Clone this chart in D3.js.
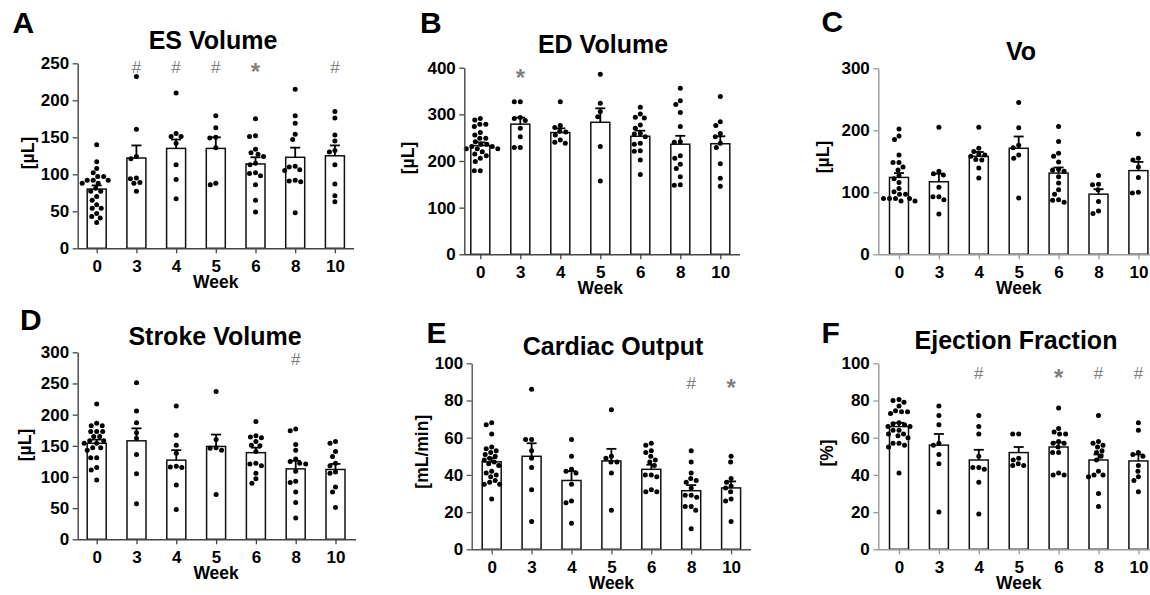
<!DOCTYPE html>
<html>
<head>
<meta charset="utf-8">
<script src="https://cdn.jsdelivr.net/npm/d3@7"></script>
<style>
  html, body { margin: 0; padding: 0; background: #fff; }
  svg { display: block; font-family: "Liberation Sans", Arial, Helvetica, sans-serif; }
</style>
</head>
<body>
<svg id="fig" width="1150" height="595"></svg>
<script>
// Weeks after start
const weeks = ["0", "3", "4", "5", "6", "8", "10"];

// A: end-systolic volume [µL]
const esDots = [
  [140,117,108,102,97,97,92,92,92,88,88,81,77,77,70,65,59,54,54,47,43,41,35],
  [232,161,124,121,95,94,89,88,77],
  [210,155,151,151,142,113,93,67],
  [179,163,150,149,136,88,86],
  [175,152,151,134,129,127,124,115,113,102,101,98,86,65,49],
  [215,179,169,154,147,111,110,106,105,92,91,90,48],
  [185,176,153,145,132,130,113,87,71,63]
];
const esMean = [80,122,135,135,114,123,125];
const esSem = [5,17,12,15,9,13,14];
const esMarks = ["","#","#","#","*","","#"];
const esTicks = [0,50,100,150,200,250];

// B: end-diastolic volume [µL]
const edDots = [
  [291,288,279,279,274,261,256,249,249,241,236,236,231,231,226,226,226,220,215,211,206,199,179,179],
  [327,327,293,291,287,270,252,229,229],
  [327,276,272,264,262,256,245,240,238],
  [386,324,306,295,231,157],
  [315,301,294,292,277,270,259,258,252,238,236,222,221,202,171],
  [356,329,321,304,274,241,240,211,206,193,184,166,149,148],
  [338,284,276,259,252,238,229,194,163,146]
];
const edMean = [233,279,261,283,253,236,237];
const edSem = [7,14,9,30,12,18,16];
const edMarks = ["","*","","","","",""];
const edTicks = [0,100,200,300,400];

// C: Vo [µL]
const voDots = [
  [202,191,185,160,148,148,141,136,127,122,116,106,101,97,97,90,90,90,90,86,86],
  [205,134,130,128,108,93,93,88,65],
  [205,171,166,161,160,158,153,152,139,123],
  [245,204,176,172,160,155,91],
  [206,182,163,158,149,137,136,134,125,115,104,97,88,87,84],
  [127,113,112,104,85,70,66],
  [194,155,152,141,124,100,99]
];
const voMean = [124,117,158,171,131,97,135];
const voSem = [7,13,7,19,9,8,14];
const voMarks = ["","","","","","",""];
const voTicks = [0,100,200,300];

// D: stroke volume [µL]
const svDots = [
  [217,186,182,182,173,173,173,165,165,158,158,154,154,147,147,143,131,131,115,111,95],
  [251,206,187,171,162,136,105,57],
  [214,167,151,138,117,116,115,87,48],
  [237,160,147,146,143,72],
  [189,166,164,163,157,151,150,141,122,121,118,106,97,90],
  [177,174,152,143,129,125,122,121,109,93,91,76,59,34],
  [157,154,141,133,122,118,108,106,84,76,51]
];
const svMean = [154,158,127,149,139,113,112];
const svSem = [6,20,16,19,8,13,9];
const svMarks = ["","","","","","#",""];
const svTicks = [0,50,100,150,200,250,300];

// E: cardiac output [mL/min]
const coDots = [
  [68,67,62,55,54,53,52,51,50,49,48,47,46,45,42,41,40,39,37,36,35,35,27],
  [86,59,59,53,49,44,32,15],
  [59,50,43,42,41,35,26,25,14],
  [75,50,49,47,47,41,21],
  [57,56,53,52,50,48,47,45,40,40,39,32,31,31],
  [53,47,41,38,37,36,33,29,29,28,23,23,21,11],
  [50,47,38,36,34,33,31,27,26,15]
];
const coMean = [47,50,37,47.5,43,31.5,33];
const coSem = [2,7,5,6.5,2.5,3,3.5];
const coMarks = ["","","","","","#","*"];
const coTicks = [0,20,40,60,80,100];

// F: ejection fraction [%]
const efDots = [
  [80.5,80,79,77,74.5,74,74,73,68,67.5,67,66,66,64,64,62,62,61,60,57,57,56,55,41],
  [77,72,67,57,56,51,46,20],
  [72,66,62,50,44,44,43,36,19],
  [62,62,49,48,46,45,45],
  [76,65,63,62,62,58,57,57,55,52,52,41,40,40],
  [72,58,57,56,55,53,52,50,48,42,40,40,39,30,23],
  [68,64,52,51,50,45,42,39,37,31]
];
const efMean = [66,56,48,52,55,48,47.5];
const efSem = [2,6,5.5,3,2.5,3,3.5];
const efMarks = ["","","#","","*","#","#"];
const efTicks = [0,20,40,60,80,100];

// Panel contents
const panels = [
  { letter: "A", title: "ES Volume", unit: "[µL]", dots: esDots, mean: esMean, sem: esSem, marks: esMarks, ticks: esTicks, markAt: 245 },
  { letter: "B", title: "ED Volume", unit: "[µL]", dots: edDots, mean: edMean, sem: edSem, marks: edMarks, ticks: edTicks, markAt: 389 },
  { letter: "C", title: "Vo", unit: "[µL]", dots: voDots, mean: voMean, sem: voSem, marks: voMarks, ticks: voTicks, markAt: 290 },
  { letter: "D", title: "Stroke Volume", unit: "[µL]", dots: svDots, mean: svMean, sem: svSem, marks: svMarks, ticks: svTicks, markAt: 289 },
  { letter: "E", title: "Cardiac Output", unit: "[mL/min]", dots: coDots, mean: coMean, sem: coSem, marks: coMarks, ticks: coTicks, markAt: 89.6 },
  { letter: "F", title: "Ejection Fraction", unit: "[%]", dots: efDots, mean: efMean, sem: efSem, marks: efMarks, ticks: efTicks, markAt: 94.6 }
];

// Panel geometry (pixels)
const layout = [
  { lx: 12.5, ly: 33, tx: 213, ty: 49, ylx: 28, yly: 153, ax: 77.7, x0: 96.7, step: 39.7, axEnd: 354, yTop: 63.3, yBot: 248.3, axisColor: "#444" },
  { lx: 420, ly: 33, tx: 603, ty: 53, ylx: 408.3, yly: 158, ax: 464.3, x0: 480.3, step: 40, axEnd: 740, yTop: 67.7, yBot: 254.3, axisColor: "#444" },
  { lx: 821.5, ly: 31.5, tx: 1021, ty: 60, ylx: 823.3, yly: 157, ax: 878.3, x0: 899, step: 39.9, axEnd: 1165, yTop: 68.3, yBot: 254.3, axisColor: "#999" },
  { lx: 20, ly: 330, tx: 215, ty: 345, ylx: 25, yly: 445, ax: 77.7, x0: 96.7, step: 39.8, axEnd: 356, yTop: 352.3, yBot: 539.3, axisColor: "#444" },
  { lx: 426.5, ly: 343, tx: 613, ty: 355, ylx: 421.7, yly: 451.7, ax: 471.7, x0: 491.7, step: 39.9, axEnd: 751, yTop: 363.3, yBot: 549.3, axisColor: "#555" },
  { lx: 821.5, ly: 343, tx: 1016, ty: 349, ylx: 826.7, yly: 453, ax: 878.3, x0: 899, step: 39.9, axEnd: 1165, yTop: 363.3, yBot: 549.3, axisColor: "#999" }
];

const barW = 19;
const dotR = 2.5;
const capW = 10;
const svg = d3.select("#fig");
svg.append("rect").attr("width", 1150).attr("height", 595).attr("fill", "#fff");

// Spread points of one group sideways so that dots do not overlap
function swarm(values, y, cx) {
  const placed = [];
  const minD = 2 * dotR + 0.6;
  values.forEach(v => {
    const py = y(v);
    let off = 0;
    for (let k = 0; k < 400; k++) {
      const c = (k === 0 ? 0 : (k % 2 ? -1 : 1) * Math.ceil(k / 2) * 0.5);
      const ok = placed.every(p => Math.hypot(p.x - (cx + c), p.y - py) >= minD);
      if (ok) { off = c; break; }
    }
    placed.push({ x: cx + off, y: py, v });
  });
  return placed;
}

function drawPanel(p, L) {
  const g = svg.append("g");
  const x = d3.scalePoint().domain(weeks).range([L.x0, L.x0 + L.step * (weeks.length - 1)]);
  const y = d3.scaleLinear().domain([0, p.ticks[p.ticks.length - 1]]).range([L.yBot, L.yTop]);

  // Mean bars
  g.selectAll("rect.bar").data(p.mean).join("rect")
    .attr("class", "bar")
    .attr("x", (d, i) => x(weeks[i]) - barW / 2)
    .attr("y", d => y(d))
    .attr("width", barW)
    .attr("height", d => y(0) - y(d))
    .attr("fill", "#fff")
    .attr("stroke", "#111")
    .attr("stroke-width", 1.5);

  // SEM whiskers (upper only, capped)
  const eb = g.append("g").attr("stroke", "#000").attr("stroke-width", 1.8).attr("fill", "none");
  p.mean.forEach((m, i) => {
    const cx = x(weeks[i]);
    eb.append("line").attr("x1", cx).attr("x2", cx).attr("y1", y(m)).attr("y2", y(m + p.sem[i]));
    eb.append("line").attr("x1", cx - capW / 2).attr("x2", cx + capW / 2).attr("y1", y(m + p.sem[i])).attr("y2", y(m + p.sem[i]));
  });

  // Individual animals
  const dg = g.append("g").attr("fill", "#000");
  p.dots.forEach((vals, i) => {
    swarm(vals, y, x(weeks[i])).forEach(pt => {
      dg.append("circle").attr("cx", pt.x).attr("cy", pt.y).attr("r", dotR);
    });
  });

  // Y axis
  const ya = g.append("g").attr("transform", `translate(${L.ax},0)`)
    .call(d3.axisLeft(y).tickValues(p.ticks).tickSize(5).tickPadding(3.5).tickSizeOuter(0));
  // X axis
  const xa = g.append("g").attr("transform", `translate(0,${L.yBot})`)
    .call(d3.axisBottom(x).tickSize(5).tickPadding(7).tickSizeOuter(0));
  xa.select(".domain").attr("d", `M${L.ax},0.5H${L.axEnd}`);

  [ya, xa].forEach(a => {
    a.attr("font-family", null).attr("font-size", null);
    a.select(".domain").attr("stroke", L.axisColor).attr("stroke-width", 1.4);
    a.selectAll(".tick line").attr("stroke", L.axisColor).attr("stroke-width", 1.3);
    a.selectAll(".tick text").attr("fill", "#000").attr("font-size", 17).attr("font-weight", "bold");
  });

  // Significance markers
  p.marks.forEach((s, i) => {
    if (!s) return;
    const star = s === "*";
    g.append("text")
      .attr("x", x(weeks[i]))
      .attr("y", y(p.markAt) + (star ? 13 : 6))
      .attr("text-anchor", "middle")
      .attr("fill", "#808080")
      .attr("font-size", star ? 24 : 17)
      .attr("font-weight", star ? "bold" : "normal")
      .text(s);
  });

  // Titles and labels
  g.append("text").attr("x", L.lx).attr("y", L.ly)
    .attr("font-size", 30).attr("font-weight", "bold").attr("fill", "#000").text(p.letter);
  g.append("text").attr("x", L.tx).attr("y", L.ty).attr("text-anchor", "middle")
    .attr("font-size", 25).attr("font-weight", "bold").attr("fill", "#000").text(p.title);
  g.append("text")
    .attr("transform", `translate(${L.ylx},${L.yly}) rotate(-90)`)
    .attr("text-anchor", "middle").attr("dy", "0.35em")
    .attr("font-size", 17.5).attr("font-weight", "bold").attr("fill", "#000").text(p.unit);
  g.append("text").attr("x", (x.range()[0] + x.range()[1]) / 2).attr("y", L.yBot + 39.5)
    .attr("text-anchor", "middle")
    .attr("font-size", 17.5).attr("font-weight", "bold").attr("fill", "#000").text("Week");
}

panels.forEach((p, i) => drawPanel(p, layout[i]));
</script>
</body>
</html>
